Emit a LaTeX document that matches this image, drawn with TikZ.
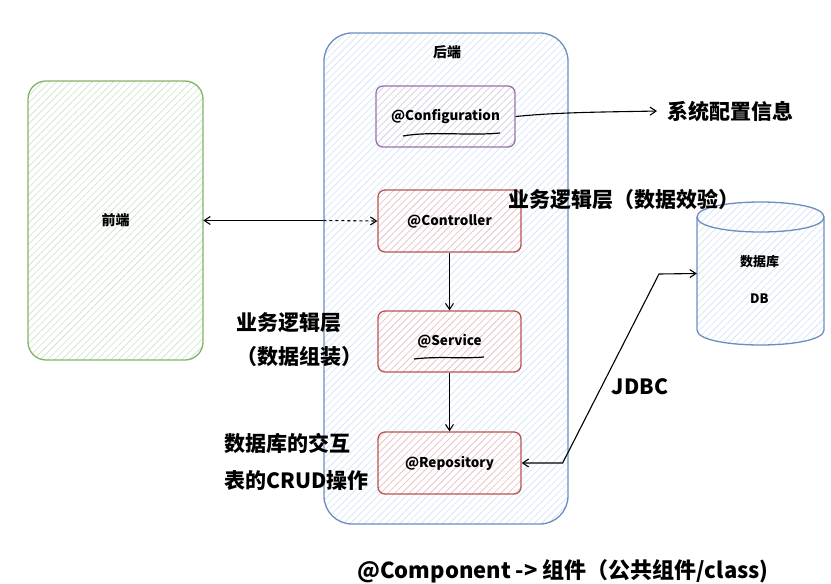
\documentclass[tikz,border=0pt]{standalone}
\usepackage{fontspec}
\setmainfont{Noto Sans CJK SC}
\usepackage{tikz}
\usetikzlibrary{patterns.meta,arrows.meta}

\definecolor{frontline}{HTML}{82B366}
\definecolor{frontfill}{HTML}{C9E2C5}
\definecolor{backline}{HTML}{6C8EBF}
\definecolor{backfill}{HTML}{CFE0F7}
\definecolor{cfgline}{HTML}{9673A6}
\definecolor{cfgfill}{HTML}{DCCDE3}
\definecolor{layerline}{HTML}{B85450}
\definecolor{layerfill}{HTML}{F5C2C0}

\begin{document}
\begin{tikzpicture}[x=1pt, y=-1pt,
	hatch/.style={pattern={Lines[angle=45,distance=5pt,line width=0.6pt]}, pattern color=#1},
	bigbox/.style={draw, line width=1.3pt, font=\bfseries\fontsize{14}{16}\selectfont},
	layerbox/.style={draw, line width=1.3pt, rounded corners=7, minimum width=143, minimum height=62, font=\bfseries\fontsize{13.5}{16}\selectfont},
	note/.style={font=\bfseries\fontsize{21}{24}\selectfont},
	>={Straight Barb[length=6pt,width=8pt]}]
	\useasboundingbox (0,0) rectangle (831,584);

	%Frontend and backend
	\node[bigbox, draw=frontline, hatch=frontfill, rounded corners=18, minimum width=175, minimum height=279] (front) at (115.5,220.5) {前端};
	\node[bigbox, draw=backline, hatch=backfill, rounded corners=28, minimum width=244, minimum height=491] (back) at (446,278.5) {};
	\node[font=\bfseries\fontsize{14}{16}\selectfont] (backname) at (447,52) {后端};

	%Layers
	\node[layerbox, draw=cfgline, hatch=cfgfill, minimum width=139, minimum height=61] (cfg) at (445.5,116.5) {@Configuration};
	\node[layerbox, draw=layerline, hatch=layerfill] (ctrl) at (449.5,221) {@Controller};
	\node[layerbox, draw=layerline, hatch=layerfill, minimum height=61] (svc) at (449.5,341.5) {@Service};
	\node[layerbox, draw=layerline, hatch=layerfill] (repo) at (449.5,463) {@Repository};
	\draw[line width=1.2pt] (403,136) .. controls (430,131) and (470,136) .. (500,133);
	\draw[line width=1.2pt] (414,359) .. controls (440,356) and (460,359) .. (484,357);

	%Database
	\node[minimum width=127, minimum height=143] (db) at (760.5,273.5) {};
	\path[draw=backline, line width=1.3pt, hatch=backfill] (697,217) -- (697,330) .. controls (697,350) and (824,350) .. (824,330) -- (824,217) .. controls (824,197) and (697,197) .. (697,217) -- cycle;
	\draw[backline, line width=1.3pt] (697,217) .. controls (697,237) and (824,237) .. (824,217);
	\node[align=center, font=\bfseries\fontsize{13}{37}\selectfont] (dbname) at (759.5,279.5) {数据库\\DB};

	%Notes
	\node[note, anchor=west] (sysinfo) at (664,111) {系统配置信息};
	\node[note, anchor=west] (ctrlnote) at (505,199) {业务逻辑层（数据效验）};
	\node[note, anchor=west, align=left, font=\bfseries\fontsize{21}{34}\selectfont] (svcnote) at (233,340) {业务逻辑层\\（数据组装）};
	\node[note, anchor=west, align=left, font=\bfseries\fontsize{21}{37}\selectfont] (reponote) at (221,461.5) {数据库的交互\\表的CRUD操作};
	\node[note] (jdbc) at (640,387) {JDBC};
	\node[note, font=\bfseries\fontsize{22}{24}\selectfont] (component) at (563,571) {@Component -> 组件（公共组件/class)};

	%Connectors
	\draw[<-, line width=1.1pt] (front.east) -- (back.west |- front.east);
	\draw[->, dashed, line width=1.1pt] (back.west |- front.east) -- (ctrl.west);
	\draw[->, line width=1.1pt] (ctrl) -- (svc);
	\draw[->, line width=1.1pt] (svc) -- (repo);
	\draw[->, line width=1.1pt] (cfg.east) .. controls (560,112) and (610,112) .. ([xshift=-7pt]sysinfo.west);
	\draw[<->, line width=1.1pt] (repo.east) -- ++(41,0) -- (659,274) -- (db.west);
\end{tikzpicture}
\end{document}
